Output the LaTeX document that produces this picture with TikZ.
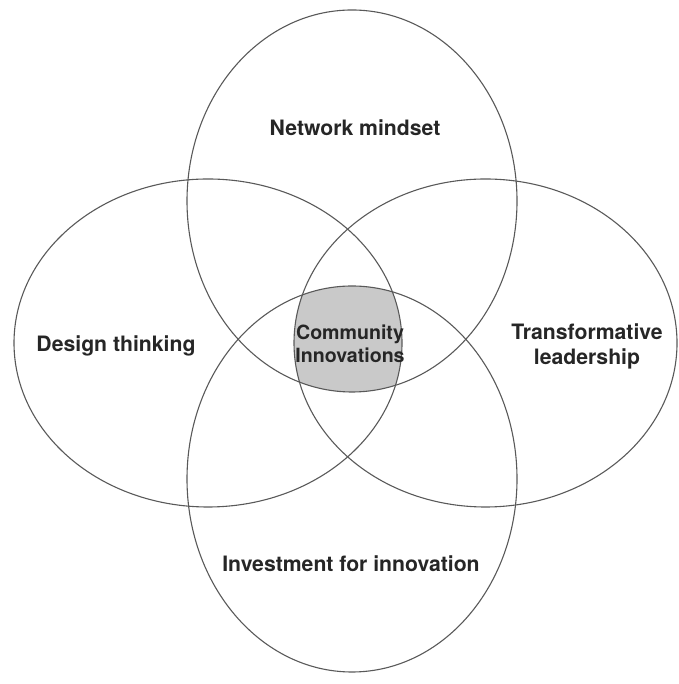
\documentclass[tikz,border=0pt]{standalone}
\usepackage{fontspec}
\setmainfont{TeX Gyre Heros}
\begin{document}
\begin{tikzpicture}[x=1pt,y=1pt,
  ring/.style={draw=black!65, line width=1.1pt},
  lbl/.style={font=\fontsize{21.2}{25}\selectfont\bfseries, text=black!85, align=center, inner sep=0pt},
  clbl/.style={font=\fontsize{19.6}{23}\selectfont\bfseries, text=black!85, align=center, inner sep=0pt}]
\useasboundingbox (0,0) rectangle (678,684);
\def\TopE{(352,483) ellipse [x radius=165, y radius=191]}
\def\BotE{(352,205) ellipse [x radius=165, y radius=193]}
\def\LeftE{(208,341) ellipse [x radius=194, y radius=164]}
\def\RightE{(485.5,341) ellipse [x radius=191.5, y radius=164]}
\begin{scope}
  \clip \TopE;
  \clip \BotE;
  \clip \LeftE;
  \fill[black!21] \RightE;
\end{scope}
\draw[ring] \TopE;
\draw[ring] \BotE;
\draw[ring] \LeftE;
\draw[ring] \RightE;
\node[lbl] (nm) at (355,556) {Network mindset};
\node[lbl] (dt) at (116,338) {Design thinking};
\node[lbl] (tl) at (587,338) {Transformative\\leadership};
\node[clbl] (ci) at (350,340) {Community\\Innovations};
\node[lbl] (ii) at (351,120) {Investment for innovation};
\end{tikzpicture}
\end{document}
